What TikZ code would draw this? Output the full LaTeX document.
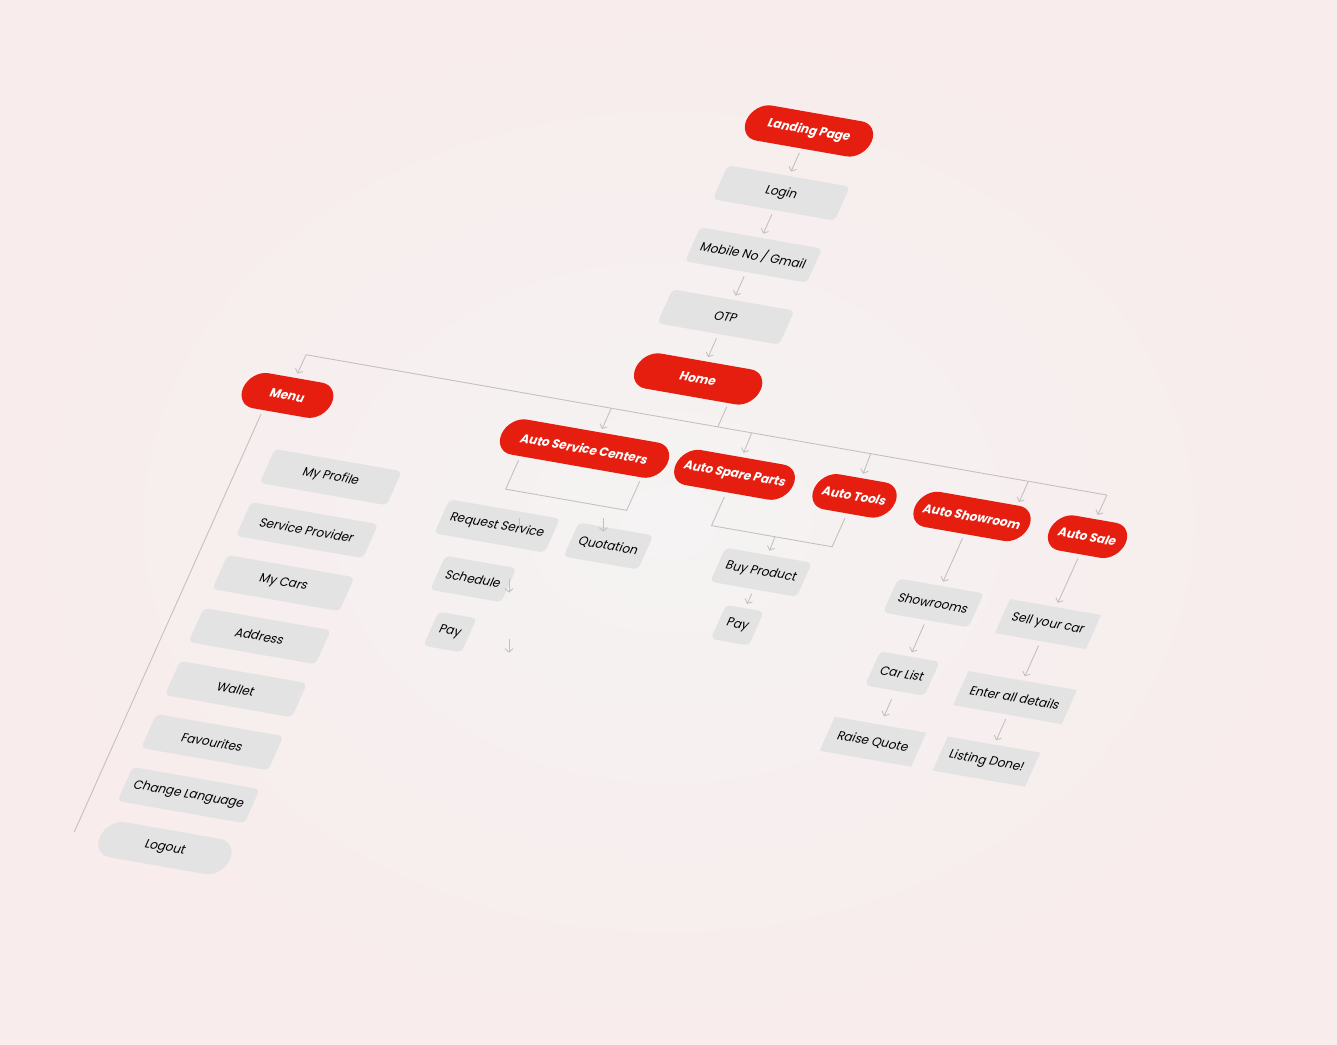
\documentclass[tikz,border=0pt]{standalone}
\usepackage{fontspec}
\setmainfont{Poppins}
\usetikzlibrary{shapes.misc, arrows.meta}

\definecolor{brandred}{RGB}{230,30,16}
\definecolor{boxgray}{RGB}{227,227,227}
\definecolor{linegray}{RGB}{196,192,192}
\definecolor{bgout}{RGB}{248,236,236}
\definecolor{bgin}{RGB}{245,243,243}

\begin{document}
\begin{tikzpicture}[x=0.02cm, y=-0.02cm,
        pill/.style={rounded rectangle, fill=brandred, text=white, inner sep=0pt,
            minimum height=0.7cm, font=\fontsize{6.7}{8}\selectfont\bfseries},
        card/.style={rectangle, rounded corners=0.09cm, fill=boxgray, text=black, inner sep=0pt,
            minimum height=0.68cm, font=\fontsize{6.7}{8}\selectfont},
        flatcard/.style={card, sharp corners},
        greypill/.style={pill, fill=boxgray, text=black, font=\fontsize{6.7}{8}\selectfont},
        wire/.style={draw=linegray, line width=0.5pt},
        tap/.style={wire, -{Straight Barb[length=2pt,width=4.5pt]}, shorten >=2.5pt},
        arr/.style={tap, shorten <=2.5pt}]

    \shade[inner color=bgin, outer color=bgout] (0,0) rectangle (1337,1044);

    \begin{scope}[cm={1,-0.1752,0.447,1,(0,0)}, transform shape]
        \node[pill, minimum width=2.5cm] (landing) at (804.5,-10) {Landing Page};
        \node[card, minimum width=2.44cm] (login) at (804.5,52) {Login};
        \node[card, minimum width=2.44cm] (mobile) at (804.5,114) {Mobile No / Gmail};
        \node[card, minimum width=2.44cm] (otp) at (804.5,176) {OTP};
        \node[pill, minimum width=2.5cm] (home) at (804.5,238) {Home};

        \node[pill, minimum width=1.77cm] (menu) at (430.5,320) {Menu};
        \node[pill, minimum width=3.32cm] (asc) at (728,321) {Auto Service Centers};
        \node[pill, minimum width=2.35cm] (asp) at (878,321) {Auto Spare Parts};
        \node[pill, minimum width=1.62cm] (tools) at (998,321) {Auto Tools};
        \node[pill, minimum width=2.28cm] (showroom) at (1115.5,321) {Auto Showroom};
        \node[pill, minimum width=1.52cm] (sale) at (1231,321) {Auto Sale};

        \node[card, minimum width=2.54cm] (profile) at (504.5,388.7) {My Profile};
        \node[card, minimum width=2.54cm] (provider) at (504.5,441.7) {Service Provider};
        \node[card, minimum width=2.54cm] (cars) at (504.5,494.7) {My Cars};
        \node[card, minimum width=2.54cm] (address) at (504.5,547.7) {Address};
        \node[card, minimum width=2.54cm] (wallet) at (504.5,600.7) {Wallet};
        \node[card, minimum width=2.54cm] (favs) at (504.5,653.7) {Favourites};
        \node[card, minimum width=2.54cm] (lang) at (504.5,706.7) {Change Language};
        \node[greypill, minimum width=2.6cm] (logout) at (504.5,759.7) {Logout};

        \node[card, minimum width=2.21cm] (request) at (679,407) {Request Service};
        \node[card, minimum width=1.49cm] (quote) at (790.5,407.5) {Quotation};
        \node[card, minimum width=1.42cm] (schedule) at (679,460) {Schedule};
        \node[card, minimum width=0.76cm] (pay) at (679.3,513) {Pay};

        \node[card, minimum width=1.73cm] (buy) at (943,407) {Buy Product};
        \node[card, minimum width=0.76cm] (pay2) at (943,460) {Pay};

        \node[card, minimum width=1.71cm] (rooms) at (1115.5,407.5) {Showrooms};
        \node[card, minimum width=1.19cm] (carlist) at (1116,478) {Car List};
        \node[flatcard, minimum width=1.83cm] (raise) at (1117,546) {Raise Quote};

        \node[flatcard, minimum width=1.82cm] (sell) at (1230.5,408.5) {Sell your car};
        \node[flatcard, minimum width=2.17cm] (enter) at (1230.5,482) {Enter all details};
        \node[flatcard, minimum width=1.85cm] (listing) at (1230.5,546) {Listing Done!};

        \coordinate (b1) at (430.8,279.2);
        \coordinate (b2) at (736,279.2);
        \coordinate (t2) at (736,300);
        \coordinate (b3) at (876.4,279.2);
        \coordinate (b4) at (995.3,279.2);
        \coordinate (b5) at (1153,279.2);
        \coordinate (t5) at (1153,300);
        \coordinate (b6) at (1231.5,279.2);
        \coordinate (ht) at (842.5,259);
        \coordinate (hb) at (842.5,279.2);
        \coordinate (m0) at (413.7,341.5);
        \coordinate (m1) at (413.7,759.2);
        \coordinate (a1) at (671.6,342.4);
        \coordinate (a2) at (671.6,371.4);
        \coordinate (a3) at (792.6,371.4);
        \coordinate (a4) at (792.6,342.4);
        \coordinate (p1) at (877.6,342.9);
        \coordinate (p2) at (877.6,371.8);
        \coordinate (p3) at (998.2,371.8);
        \coordinate (p4) at (998.2,343.2);
        \coordinate (pm) at (941,371.8);

        \draw[arr] (landing) -- (login);
        \draw[arr] (login) -- (mobile);
        \draw[arr] (mobile) -- (otp);
        \draw[arr] (otp) -- (home);

        \draw[wire] (ht) -- (hb);
        \draw[wire] (b1) -- (b6);
        \draw[tap] (b1) -- (menu);
        \draw[tap, shorten >=0pt] (b2) -- (t2);
        \draw[tap] (b3) -- (asp);
        \draw[tap] (b4) -- (tools);
        \draw[tap, shorten >=0pt] (b5) -- (t5);
        \draw[tap] (b6) -- (sale);

        \draw[wire] (m0) -- (m1);
        \draw[wire] (a1) -- (a2) -- (a3) -- (a4);
        \draw[wire] (p1) -- (p2) -- (p3) -- (p4);
        \draw[tap] (pm) -- (buy);
        \draw[arr] (buy) -- (pay2);

        \draw[arr] (showroom) -- (rooms);
        \draw[arr] (rooms) -- (carlist);
        \draw[arr, shorten <=5pt, shorten >=5pt] (carlist) -- (raise);
        \draw[arr] (sale) -- (sell);
        \draw[arr] (sell) -- (enter);
        \draw[arr] (enter) -- (listing);
    \end{scope}

    \coordinate (s1) at (519.3,518);
    \coordinate (e1) at (519.3,529);
    \coordinate (s2) at (603.3,518.3);
    \coordinate (e2) at (603.3,531.7);
    \coordinate (s3) at (509,579.3);
    \coordinate (e3) at (509,592.7);
    \coordinate (s4) at (509,639.3);
    \coordinate (e4) at (509,652.7);
    \draw[wire] (s1) -- (e1);
    \draw[tap, shorten >=0pt] (s2) -- (e2);
    \draw[tap, shorten >=0pt] (s3) -- (e3);
    \draw[tap, shorten >=0pt] (s4) -- (e4);
\end{tikzpicture}
\end{document}
